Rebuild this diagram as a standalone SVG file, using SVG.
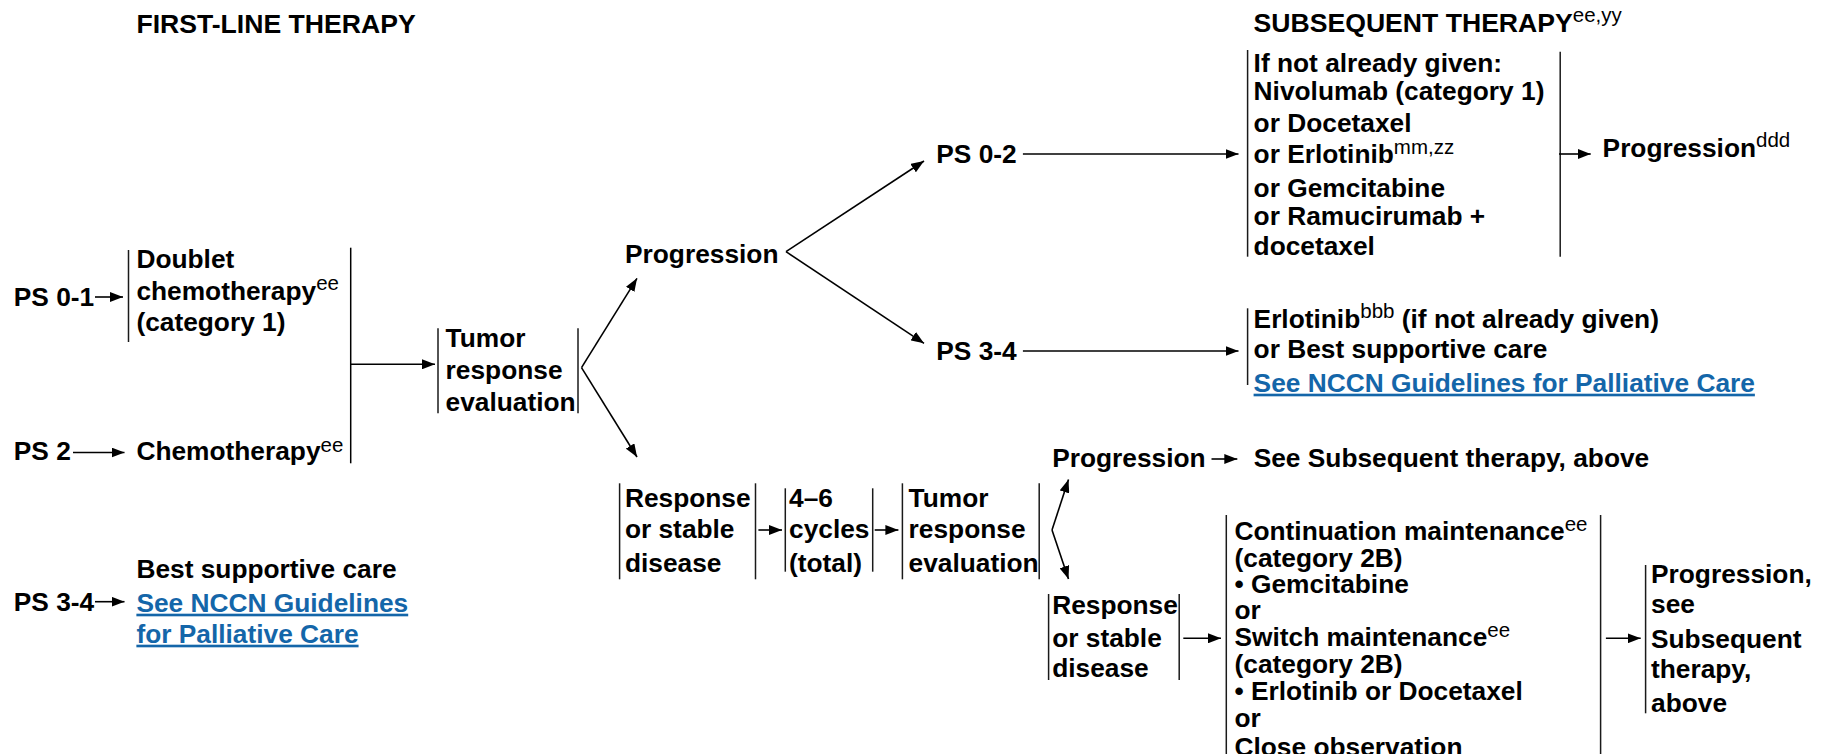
<svg xmlns="http://www.w3.org/2000/svg" width="1822" height="754" viewBox="0 0 1822 754">
<style>
  text { font-family: "Liberation Sans", Arial, sans-serif; font-weight: bold; font-size: 26.3px; fill: #000; }
  .h { font-size: 26.6px; }
  .sup { font-size: 20.5px; font-weight: normal; }
  .lnk { fill: #1466a9; text-decoration: underline; }
  .br { stroke: #1a1a1a; stroke-width: 1.5; fill: none; }
  .cn { stroke: #000; stroke-width: 1.6; fill: none; marker-end: url(#ah); }
  .cn0 { stroke: #000; stroke-width: 1.5; fill: none; }
</style>
<defs>
  <marker id="ah" markerUnits="userSpaceOnUse" markerWidth="14" markerHeight="10" refX="13" refY="5" orient="auto">
    <path d="M0,0 L13,5 L0,10 z" fill="#000"/>
  </marker>
</defs>
<rect width="1822" height="754" fill="#fff"/>

<g id="hdr-first"><text class="h" x="136.4" y="33">FIRST-LINE THERAPY</text></g>
<g id="hdr-subsequent"><text class="h" x="1253.6" y="31.7">SUBSEQUENT THERAPY<tspan class="sup" dy="-10">ee,yy</tspan></text></g>

<g id="ps01"><text x="13.8" y="306">PS 0-1</text></g>
<g id="doublet">
  <line class="br" x1="128.5" y1="250" x2="128.5" y2="342"/>
  <text x="136.4" y="268">Doublet</text>
  <text x="136.4" y="300">chemotherapy<tspan class="sup" dy="-10">ee</tspan></text>
  <text x="136.4" y="331">(category 1)</text>
</g>
<g id="ps2"><text x="13.8" y="460">PS 2</text></g>
<g id="chemo"><text x="136.4" y="460">Chemotherapy<tspan class="sup" dy="-8">ee</tspan></text></g>
<g id="ps34a"><text x="13.8" y="610.7">PS 3-4</text></g>
<g id="bsc">
  <text x="136.4" y="578.3">Best supportive care</text>
  <text class="lnk" x="136.4" y="611.7">See NCCN Guidelines</text>
  <text class="lnk" x="136.4" y="642.7">for Palliative Care</text>
</g>

<g id="tumor1">
  <line class="br" x1="438" y1="328.3" x2="438" y2="413.3"/>
  <line class="br" x1="578" y1="328.3" x2="578" y2="413.3"/>
  <text x="445.6" y="346.7">Tumor</text>
  <text x="445.6" y="379">response</text>
  <text x="445.6" y="410.7">evaluation</text>
</g>

<g id="progression1"><text x="625" y="263.3">Progression</text></g>
<g id="ps02"><text x="936.3" y="163.3">PS 0-2</text></g>
<g id="ps34b"><text x="936.3" y="360">PS 3-4</text></g>

<g id="subsequent">
  <line class="br" x1="1247.6" y1="50" x2="1247.6" y2="256.7"/>
  <line class="br" x1="1560.2" y1="51.7" x2="1560.2" y2="256.7"/>
  <text x="1253.6" y="72">If not already given:</text>
  <text x="1253.6" y="100">Nivolumab (category 1)</text>
  <text x="1253.6" y="131.7">or Docetaxel</text>
  <text x="1253.6" y="163.3">or Erlotinib<tspan class="sup" dy="-9">mm,zz</tspan></text>
  <text x="1253.6" y="196.7">or Gemcitabine</text>
  <text x="1253.6" y="225">or Ramucirumab +</text>
  <text x="1253.6" y="255">docetaxel</text>
</g>
<g id="progression-ddd"><text x="1602.6" y="156.7">Progression<tspan class="sup" dy="-10">ddd</tspan></text></g>

<g id="erlotinib">
  <line class="br" x1="1247.6" y1="308.3" x2="1247.6" y2="385"/>
  <text x="1253.6" y="328.3">Erlotinib<tspan class="sup" dy="-10">bbb</tspan><tspan dy="10"> (if not already given)</tspan></text>
  <text x="1253.6" y="358.3">or Best supportive care</text>
  <text class="lnk" x="1253.6" y="391.7">See NCCN Guidelines for Palliative Care</text>
</g>

<g id="response1">
  <line class="br" x1="619.6" y1="483.3" x2="619.6" y2="579.3"/>
  <line class="br" x1="755.5" y1="483.3" x2="755.5" y2="579.3"/>
  <text x="624.9" y="507.3">Response</text>
  <text x="624.9" y="538.3">or stable</text>
  <text x="624.9" y="571.7">disease</text>
</g>
<g id="cycles">
  <line class="br" x1="785.3" y1="488.3" x2="785.3" y2="571.7"/>
  <line class="br" x1="872.7" y1="488.3" x2="872.7" y2="571.7"/>
  <text x="789" y="507.3">4–6</text>
  <text x="789" y="538.3">cycles</text>
  <text x="789" y="571.7">(total)</text>
</g>
<g id="tumor2">
  <line class="br" x1="902.4" y1="483.3" x2="902.4" y2="579.3"/>
  <line class="br" x1="1039.2" y1="483.3" x2="1039.2" y2="579.3"/>
  <text x="908.6" y="507.3">Tumor</text>
  <text x="908.6" y="538.3">response</text>
  <text x="908.6" y="571.7">evaluation</text>
</g>

<g id="progression2"><text x="1052.2" y="466.7">Progression</text></g>
<g id="see-subsequent"><text x="1253.7" y="466.7">See Subsequent therapy, above</text></g>

<g id="response2">
  <line class="br" x1="1048.6" y1="594" x2="1048.6" y2="680"/>
  <line class="br" x1="1179.2" y1="594" x2="1179.2" y2="680"/>
  <text x="1052.2" y="614">Response</text>
  <text x="1052.2" y="646.7">or stable</text>
  <text x="1052.2" y="676.7">disease</text>
</g>

<g id="maintenance">
  <line class="br" x1="1226.3" y1="515" x2="1226.3" y2="754"/>
  <line class="br" x1="1600.6" y1="515" x2="1600.6" y2="754"/>
  <text x="1234.5" y="540">Continuation maintenance<tspan class="sup" dy="-9">ee</tspan></text>
  <text x="1234.5" y="566.7">(category 2B)</text>
  <text x="1234.5" y="593.3">• Gemcitabine</text>
  <text x="1234.5" y="619.3">or</text>
  <text x="1234.5" y="646">Switch maintenance<tspan class="sup" dy="-9">ee</tspan></text>
  <text x="1234.5" y="672.5">(category 2B)</text>
  <text x="1234.5" y="700">• Erlotinib or Docetaxel</text>
  <text x="1234.5" y="726.5">or</text>
  <text x="1234.5" y="756">Close observation</text>
</g>

<g id="prog-see">
  <line class="br" x1="1645.6" y1="565" x2="1645.6" y2="713.3"/>
  <text x="1651" y="583.3">Progression,</text>
  <text x="1651" y="613.3">see</text>
  <text x="1651" y="648.3">Subsequent</text>
  <text x="1651" y="678.3">therapy,</text>
  <text x="1651" y="711.7">above</text>
</g>

<g id="connectors">
  <path class="cn" d="M95,297 L123,297"/>
  <path class="cn" d="M73,452.5 L124.5,452.5"/>
  <path class="cn" d="M95,601.7 L124.5,601.7"/>
  <path class="cn0" d="M350.7,247.7 L350.7,463.3"/>
  <path class="cn" d="M350.7,364.3 L435,364.3"/>
  <path class="cn" d="M581.5,367.7 L637,278.3"/>
  <path class="cn" d="M581.5,367.7 L637,457"/>
  <path class="cn" d="M786,251.7 L924,161"/>
  <path class="cn" d="M786,251.7 L924,343.3"/>
  <path class="cn" d="M1022.9,154 L1238.5,154"/>
  <path class="cn" d="M1022.9,351 L1238.5,351"/>
  <path class="cn" d="M1559,154 L1590.7,154"/>
  <path class="cn" d="M758.4,530 L782,530"/>
  <path class="cn" d="M874.7,530 L898.4,530"/>
  <path class="cn" d="M1052,530 L1068.5,479.5"/>
  <path class="cn" d="M1052,530 L1068.5,579"/>
  <path class="cn" d="M1211.5,459 L1237.3,459"/>
  <path class="cn" d="M1183.3,638.3 L1221,638.3"/>
  <path class="cn" d="M1605.9,638.3 L1640.7,638.3"/>
</g>
</svg>
